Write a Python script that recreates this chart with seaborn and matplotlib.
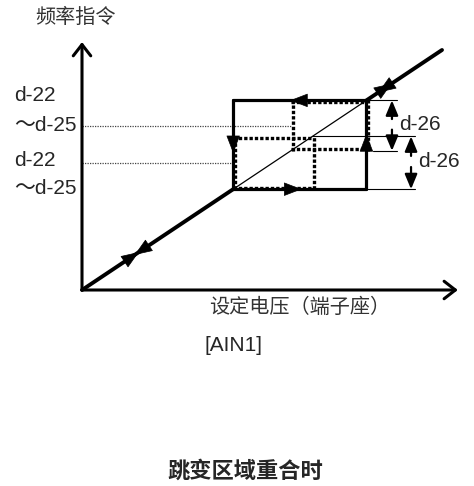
import pandas as pd
import matplotlib.pyplot as plt
import seaborn as sns

# frequency command vs set voltage, both in % (on the diagonal f = v)
diag_end = 100
jump_bands = [(42, 64), (58, 79)]      # lower / upper jump band, each d-26 wide
jump_levels = [53, 68.5]               # d-22 ~ d-25 jump frequencies
axis_len = (104.4, 103.3)              # voltage axis, frequency axis

level_labels = ["d-22", "～d-25"]
band_label = "d-26"
x_label = "设定电压（端子座）"
y_label = "频率指令"
input_label = "[AIN1]"
title = "跳变区域重合时"

# direction markers: (v, f, dx, dy)
loop_arrows = [(57.8, 79, -1, 0), (42, 57, 0, -1), (61, 42, 1, 0), (79, 65, 0, 1)]
diag_arrows = [(15.8, 1), (14.6, -1), (86.0, 1), (82.3, -1)]


def px(x, y):
    # figure pixel (from top left) -> data units
    return (x - 82) / 3.6, (290 - y) / 2.4


def segments(segs):
    rows = []
    for i, (v0, f0, v1, f1) in enumerate(segs):
        rows.append({"v": v0, "f": f0, "seg": i})
        rows.append({"v": v1, "f": f1, "seg": i})
    return pd.DataFrame(rows)


def draw(ax, segs, **kw):
    sns.lineplot(data=segments(segs), x="v", y="f", units="seg", estimator=None,
                 sort=False, color=kw.pop("color", "black"), legend=False, ax=ax, **kw)


sns.set_style("white")
plt.rcParams["font.family"] = ["Liberation Sans", "Noto Sans CJK SC", "DejaVu Sans"]

fig = plt.figure(figsize=(4.74, 4.86), dpi=100)
ax = fig.add_axes([0, 0, 1, 1])
ax.set_xlim(-82 / 3.6, 392 / 3.6)
ax.set_ylim(-196 / 2.4, 290 / 2.4)
ax.axis("off")

lo = min(b[0] for b in jump_bands)
hi = max(b[1] for b in jump_bands)

# axes with open arrow heads
for end in [(axis_len[0], 0), (0, axis_len[1])]:
    ax.annotate("", xy=end, xytext=(0, 0),
                arrowprops=dict(arrowstyle="->,head_length=0.45,head_width=0.35",
                                lw=2.2, color="black", shrinkA=0, shrinkB=0,
                                mutation_scale=18))

# diagonal: thick outside the jump region, thin inside
draw(ax, [(0, 0, lo, lo), (hi, hi, diag_end, diag_end)], lw=2.8)
draw(ax, [(lo, lo, hi, hi)], lw=0.9)

# reference levels d-22 ~ d-25
draw(ax, [(0, jump_levels[0], jump_bands[0][0], jump_levels[0]),
          (0, jump_levels[1], jump_bands[1][0], jump_levels[1])],
     lw=0.9, color="#444444", linestyle=(0, (1, 1)))

# combined hysteresis loop
draw(ax, [(lo, lo, lo, hi), (lo, hi, hi, hi), (hi, hi, hi, lo), (lo, lo, hi, lo)], lw=2.3)

# single jump bands (dotted), nudged inwards so they show on shared edges
dv, df = 0.5, 0.7
dotted = []
for a, b in jump_bands:
    a_v, b_v, a_f, b_f = a + dv, b + dv, a + df, b - df
    dotted += [(a_v, a, a_v, b), (a, b_f, b, b_f), (b_v, a, b_v, b), (a, a_f, b, a_f)]
draw(ax, dotted, lw=2.4, linestyle=(0, (1, 0.6)))

# dimension lines for d-26
(b1_lo, b1_hi), (b2_lo, b2_hi) = jump_bands
dim_x = [86.1, 91.4]
ext = [(hi, b2_hi, 87.5, b2_hi), (80.8, b2_lo, 87.5, b2_lo),
       (b1_hi, b1_hi, 92.5, b1_hi), (hi, b1_lo, 92.5, b1_lo)]
draw(ax, ext, lw=0.8)
for x, (a, b) in zip(dim_x, [(b2_lo, b2_hi), (b1_lo, b1_hi)]):
    g_top = b - 0.37 * (b - a)
    g_bot = b - 0.58 * (b - a)
    for tail, tip in [(g_top, b), (g_bot, a)]:
        ax.annotate("", xy=(x, tip), xytext=(x, tail),
                    arrowprops=dict(arrowstyle="-|>,head_length=0.6,head_width=0.25",
                                    lw=1.6, color="black", shrinkA=0, shrinkB=0,
                                    mutation_scale=15))
    ax.text(x + 2.0, (g_top + g_bot) / 2, band_label, fontsize=15, va="center", ha="left")

# direction arrows (tails run along the line they sit on)
head = dict(arrowstyle="-|>,head_length=0.65,head_width=0.25", lw=0.5,
            color="black", shrinkA=0, shrinkB=0, mutation_scale=18)
for v, f, dx, dy in loop_arrows:
    ax.annotate("", xy=(v, f), xytext=(v - 4 * dx, f - 4 * dy), arrowprops=head)
for v, d in diag_arrows:
    ax.annotate("", xy=(v, v), xytext=(v - 4 * d, v - 4 * d), arrowprops=head)

# texts
ax.text(*px(14, 96), level_labels[0], fontsize=15, va="center")
ax.text(*px(14, 126), level_labels[1], fontsize=15, va="center")
ax.text(*px(14, 160), level_labels[0], fontsize=15, va="center")
ax.text(*px(14, 188), level_labels[1], fontsize=15, va="center")

cjk = ["Noto Sans CJK SC", "DejaVu Sans"]
ax.text(*px(35, 17), y_label, fontsize=14.5, va="center", ha="left", family=cjk, color="#333333")
ax.text(*px(300, 307), x_label, fontsize=14.5, va="center", ha="center", family=cjk, color="#333333")
ax.text(*px(205, 345), input_label, fontsize=15, va="center", ha="left")
ax.text(*px(245, 471), title, fontsize=16, va="center", ha="center", family=cjk,
        fontweight="bold")

fig.savefig("out.png", dpi=100)
